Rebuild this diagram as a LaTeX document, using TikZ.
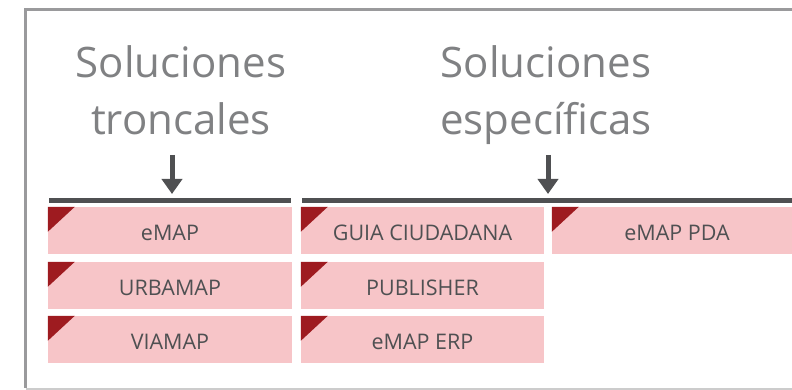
\documentclass[tikz,border=0pt]{standalone}
\usepackage{fontspec}
\setmainfont{Open Sans}
\usetikzlibrary{arrows.meta}
\definecolor{framegray}{HTML}{9A9A9C}
\definecolor{framelight}{HTML}{CCCCCC}
\definecolor{headgray}{HTML}{808183}
\definecolor{darkgray}{HTML}{4F5052}
\definecolor{boxpink}{HTML}{F7C5C8}
\definecolor{cornerred}{HTML}{9E1B20}
\tikzset{
  sol/.style={fill=boxpink, draw=none, minimum height=47pt, inner sep=0pt, text=darkgray,
    text height=20.4pt, text depth=0pt, font=\fontsize{21.5}{21.5}\selectfont},
  head/.style={text=headgray, align=center, font=\fontsize{42}{57}\selectfont, inner sep=0pt, anchor=north},
  bar/.style={darkgray, line width=5pt},
  down/.style={darkgray, line width=5pt, -{Triangle[width=20pt,length=15pt]}},
}
\newcommand{\corner}[1]{\fill[cornerred] (#1.north west) -- ++(27pt,0) -- ++(-27pt,-25pt) -- cycle;}
\begin{document}
\begin{tikzpicture}[x=1pt,y=-1pt]
\useasboundingbox (0,0) rectangle (792,390);
% frame
\draw[framegray, line width=2.5pt] (792,9.5) -- (25.5,9.5) -- (25.5,388);
\draw[framelight, line width=2pt] (25.5,388.5) -- (792,388.5);
% headings
\node[head] (h1) at (181,45) {Soluciones\\troncales};
\node[head] (h2) at (546,45) {Soluciones\\específicas};
% arrows
\coordinate (a1s) at (172,155);
\coordinate (a1e) at (172,194);
\coordinate (a2s) at (548,155);
\coordinate (a2e) at (548,194);
\draw[down] (a1s) -- (a1e);
\draw[down] (a2s) -- (a2e);
% bars
\coordinate (b1s) at (49,201);
\coordinate (b1e) at (291,201);
\coordinate (b2s) at (302,201);
\coordinate (b2e) at (792,201);
\draw[bar] (b1s) -- (b1e);
\draw[bar] (b2s) -- (b2e);
% boxes
\node[sol, minimum width=244pt] (emap) at (170,230.5) {eMAP};
\node[sol, minimum width=244pt] (urbamap) at (170,285.5) {URBAMAP};
\node[sol, minimum width=244pt] (viamap) at (170,339.5) {VIAMAP};
\node[sol, minimum width=243pt] (guia) at (422.5,230.5) {GUIA CIUDADANA};
\node[sol, minimum width=243pt] (publisher) at (422.5,285.5) {PUBLISHER};
\node[sol, minimum width=243pt] (erp) at (422.5,339.5) {eMAP ERP};
\node[sol, minimum width=250pt] (pda) at (677,230.5) {eMAP PDA};
\foreach \n in {emap,urbamap,viamap,guia,publisher,erp,pda} {\corner{\n}}
\end{tikzpicture}
\end{document}
